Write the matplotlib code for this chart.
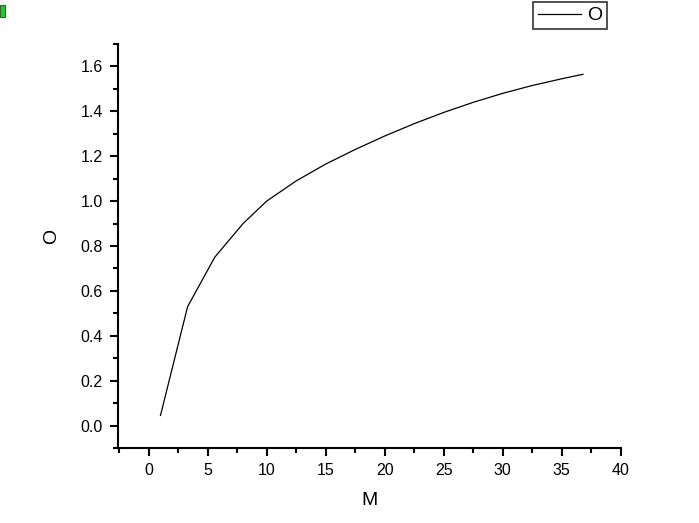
import matplotlib.pyplot as plt
from matplotlib.ticker import MultipleLocator
from matplotlib.patches import Rectangle

plt.rcParams['font.family'] = ['Liberation Sans', 'DejaVu Sans']

# values
m_vals = [1.0, 3.3, 5.6, 8.0, 10.0, 12.5, 15.0, 17.5, 20.0, 22.5, 25.0, 27.5, 30.0, 32.5, 35.0, 36.8]
o_vals = [0.045, 0.53, 0.75, 0.90, 1.00, 1.09, 1.165, 1.23, 1.29, 1.345, 1.395, 1.44, 1.48, 1.515, 1.545, 1.565]

fig = plt.figure(figsize=(6.99, 5.23), dpi=100)
ax = fig.add_axes([0.1688, 0.1434, 0.888 - 0.1688, 0.9159 - 0.1434])

ax.plot(m_vals, o_vals, color='black', linewidth=0.9, label='O')

ax.set_xlim(-2.6, 40)
ax.set_ylim(-0.10, 1.70)
ax.xaxis.set_major_locator(MultipleLocator(5))
ax.xaxis.set_minor_locator(MultipleLocator(2.5))
ax.yaxis.set_major_locator(MultipleLocator(0.2))
ax.yaxis.set_minor_locator(MultipleLocator(0.1))
ax.yaxis.set_major_formatter(plt.FormatStrFormatter('%.1f'))

for s in ['top', 'right']:
    ax.spines[s].set_visible(False)
for s in ['left', 'bottom']:
    ax.spines[s].set_linewidth(1.5)

ax.tick_params(which='major', direction='out', length=6, width=1.5, labelsize=11.5, pad=5)
ax.tick_params(which='minor', direction='out', length=3.5, width=1.5)

ax.set_xlabel('M', fontsize=14, labelpad=10)
ax.set_ylabel('O', fontsize=14)
# label centred a bit above the middle of the axis, as in the reference
ax.yaxis.set_label_coords(-0.115, (448 - 236) / (448 - 44))

leg = ax.legend(loc='upper left', bbox_to_anchor=(533 / 699, 1 - 2 / 523),
                bbox_transform=fig.transFigure, fontsize=14, frameon=True,
                fancybox=False, edgecolor='black', handlelength=2.2,
                handletextpad=0.35, borderpad=0.25, borderaxespad=0)
leg.get_frame().set_linewidth(1.2)

# small green icon at top-left corner
fig.patches.append(Rectangle((0, 1 - 17 / 523), 5 / 699, 12 / 523,
                             transform=fig.transFigure, facecolor='#22cc22',
                             edgecolor='#336633', linewidth=0.8))

plt.savefig('out.png', dpi=100)
